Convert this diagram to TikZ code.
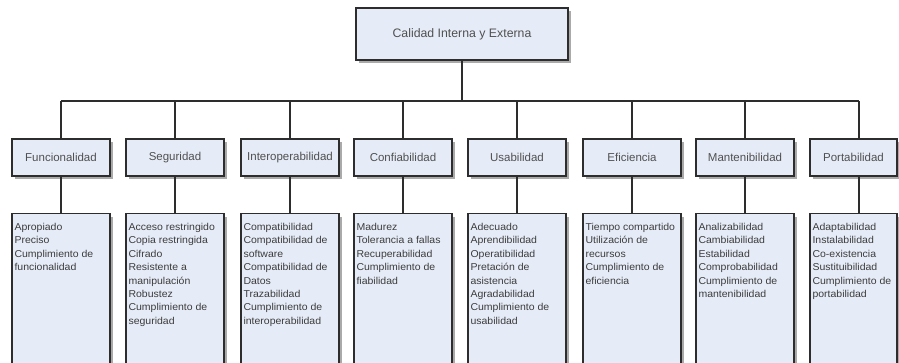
\documentclass[tikz,border=0pt]{standalone}
\usepackage{fontspec}
\setmainfont{Liberation Sans}
\newfontfamily\itemfont[FakeStretch=1.05]{Liberation Sans}
\usetikzlibrary{shadows,calc}
\definecolor{boxfill}{RGB}{230,236,247}
\definecolor{boxline}{RGB}{45,45,45}
\definecolor{labeltext}{RGB}{80,80,80}
\definecolor{itemtext}{RGB}{60,60,60}
\definecolor{shadowgray}{RGB}{170,170,170}
\tikzset{
  boxbase/.style={draw=boxline, line width=1.3pt, fill=boxfill, inner sep=0pt,
    drop shadow={shadow xshift=3pt, shadow yshift=-3pt, fill=shadowgray, opacity=1}},
  rootbox/.style={boxbase, minimum width=212pt, minimum height=52pt,
    font=\fontsize{12.3}{14}\selectfont, text=labeltext},
  catbox/.style={boxbase, minimum width=98pt, minimum height=37pt,
    font=\fontsize{11.5}{13}\selectfont, text=labeltext},
  listbox/.style={boxbase, minimum width=98pt, minimum height=160pt, anchor=north},
  listtext/.style={anchor=north west, inner sep=0pt, align=left, text=itemtext,
    font=\itemfont\fontsize{10}{13.4}\selectfont},
  link/.style={draw=boxline, line width=1.3pt}
}
\begin{document}
\begin{tikzpicture}[x=1pt,y=-1pt]
\useasboundingbox (0,0) rectangle (899,362);
\begin{scope}
\clip (0,0) rectangle (899,362);

% root
\node[rootbox] (root) at (462,34) {Calidad Interna y Externa};
\coordinate (bus) at (462,101);
\coordinate (busL) at (61,101);
\coordinate (busR) at (859,101);

% categories
\node[catbox] (c1) at (61,157.5) {Funcionalidad};
\node[catbox] (c2) at (175,157.5) {Seguridad};
\node[catbox] (c3) at (290,157.5) {Interoperabilidad};
\node[catbox] (c4) at (403,157.5) {Confiabilidad};
\node[catbox] (c5) at (517,157.5) {Usabilidad};
\node[catbox] (c6) at (632,157.5) {Eficiencia};
\node[catbox] (c7) at (745,157.5) {Mantenibilidad};
\node[catbox, minimum width=87pt] (c8) at (853.5,157.5) {Portabilidad};

% detail lists
\node[listbox] (l1) at (61,213) {};
\node[listbox] (l2) at (175,213) {};
\node[listbox] (l3) at (290,213) {};
\node[listbox] (l4) at (403,213) {};
\node[listbox] (l5) at (517,213) {};
\node[listbox] (l6) at (632,213) {};
\node[listbox] (l7) at (745,213) {};
\node[listbox, minimum width=87pt] (l8) at (853.5,213) {};

\node[listtext] (t1) at ($(l1.north west)+(3,10)$) {Apropiado\\Preciso\\Cumplimiento de\\funcionalidad};
\node[listtext] (t2) at ($(l2.north west)+(3,10)$) {Acceso restringido\\Copia restringida\\Cifrado\\Resistente a\\manipulación\\Robustez\\Cumplimiento de\\seguridad};
\node[listtext] (t3) at ($(l3.north west)+(3,10)$) {Compatibilidad\\Compatibilidad de\\software\\Compatibilidad de\\Datos\\Trazabilidad\\Cumplimiento de\\interoperabilidad};
\node[listtext] (t4) at ($(l4.north west)+(3,10)$) {Madurez\\Tolerancia a fallas\\Recuperabilidad\\Cumplimiento de\\fiabilidad};
\node[listtext] (t5) at ($(l5.north west)+(3,10)$) {Adecuado\\Aprendibilidad\\Operatibilidad\\Pretación de\\asistencia\\Agradabilidad\\Cumplimiento de\\usabilidad};
\node[listtext] (t6) at ($(l6.north west)+(3,10)$) {Tiempo compartido\\Utilización de\\recursos\\Cumplimiento de\\eficiencia};
\node[listtext] (t7) at ($(l7.north west)+(3,10)$) {Analizabilidad\\Cambiabilidad\\Estabilidad\\Comprobabilidad\\Cumplimiento de\\mantenibilidad};
\node[listtext] (t8) at ($(l8.north west)+(3,10)$) {Adaptabilidad\\Instalabilidad\\Co-existencia\\Sustituibilidad\\Cumplimiento de\\portabilidad};

% connectors
\draw[link] (root.south) -- (bus);
\draw[link] (busL) -- (busR);
\foreach \i in {1,...,7}{
  \draw[link] (c\i.north |- bus) -- (c\i.north);
  \draw[link] (c\i.south) -- (l\i.north);
}
\draw[link] (busR) -- (busR |- c8.north);
\draw[link] (busR |- c8.south) -- (busR |- l8.north);
\end{scope}
\end{tikzpicture}
\end{document}
